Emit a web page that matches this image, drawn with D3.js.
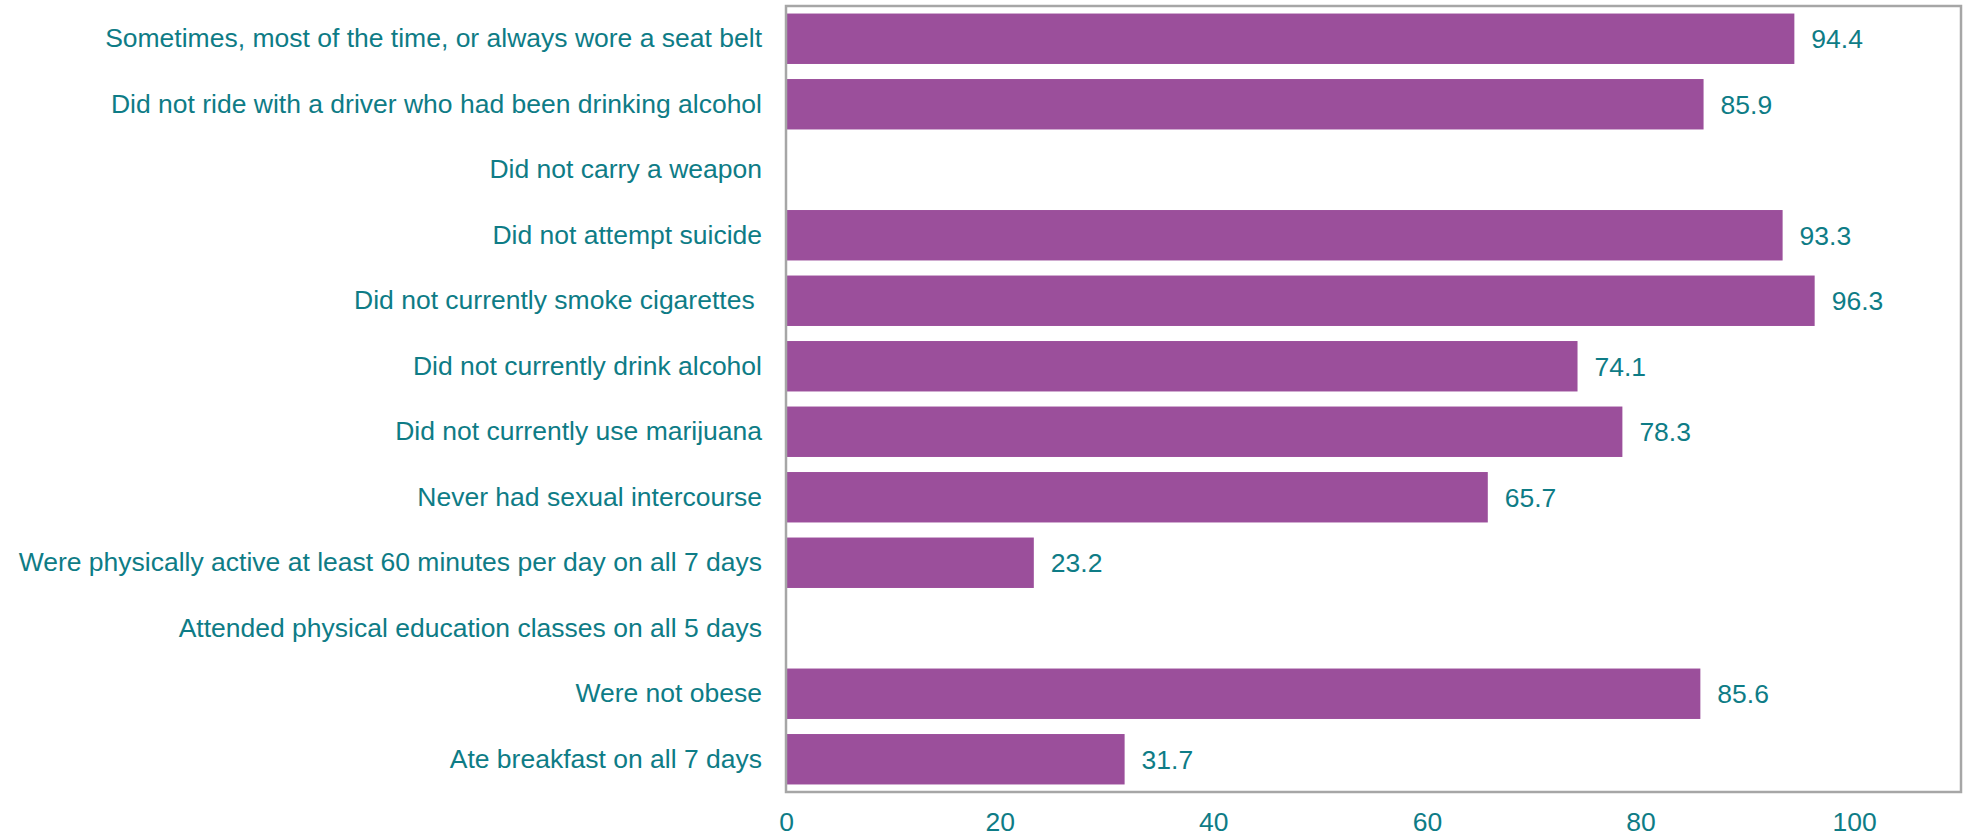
<!DOCTYPE html>
<html>
<head>
<meta charset="utf-8">
<script src="https://cdn.jsdelivr.net/npm/d3@7"></script>
<style>
  body { margin: 0; background: #fff; }
  text { font-family: "Liberation Sans", Arial, sans-serif; }
</style>
</head>
<body>
<div id="chart"></div>
<script>
// Chart data
const categories = [
  "Sometimes, most of the time, or always wore a seat belt",
  "Did not ride with a driver who had been drinking alcohol",
  "Did not carry a weapon",
  "Did not attempt suicide",
  "Did not currently smoke cigarettes ",
  "Did not currently drink alcohol",
  "Did not currently use marijuana",
  "Never had sexual intercourse",
  "Were physically active at least 60 minutes per day on all 7 days",
  "Attended physical education classes on all 5 days",
  "Were not obese",
  "Ate breakfast on all 7 days"
];
const values = [94.4, 85.9, null, 93.3, 96.3, 74.1, 78.3, 65.7, 23.2, null, 85.6, 31.7];
const xTicks = [0, 20, 40, 60, 80, 100];

const data = categories.map((c, i) => ({ name: c, value: values[i] }));

// Dimensions
const width = 1971;
const height = 840;
const margin = { left: 786, right: 10, top: 6, bottom: 48 };

const purple = "#9b4f9b";
const teal = "#0e7c86";
const fontSize = "26.5px";

const xScale = d3.scaleLinear()
  .domain([0, 110])
  .range([margin.left, width - margin.right]);

const yScale = d3.scaleBand()
  .domain(categories)
  .range([margin.top, height - margin.bottom])
  .paddingInner(0.23)
  .paddingOuter(0.115);

const svg = d3.select("#chart")
  .append("svg")
  .attr("width", width)
  .attr("height", height)
  .attr("viewBox", [0, 0, width, height]);

// Bars
svg.selectAll("rect.bar")
  .data(data.filter(d => d.value !== null))
  .enter()
  .append("rect")
    .attr("class", "bar")
    .attr("x", xScale(0))
    .attr("y", d => yScale(d.name))
    .attr("width", d => xScale(d.value) - xScale(0))
    .attr("height", yScale.bandwidth())
    .attr("fill", purple);

// Value labels
svg.selectAll("text.val")
  .data(data.filter(d => d.value !== null))
  .enter()
  .append("text")
    .attr("class", "val")
    .attr("x", d => xScale(d.value) + 17)
    .attr("y", d => yScale(d.name) + yScale.bandwidth() / 2)
    .attr("dy", "0.35em")
    .attr("fill", teal)
    .attr("font-size", fontSize)
    .text(d => d.value.toFixed(1));

// Category axis (left)
const yAxis = svg.append("g")
  .attr("transform", `translate(${margin.left - 24}, 0)`)
  .call(d3.axisLeft(yScale).tickSize(0).tickPadding(0));
yAxis.select(".domain").remove();
yAxis.selectAll("text")
  .attr("fill", teal)
  .attr("font-size", fontSize)
  .style("white-space", "pre");

// Value axis (bottom)
const xAxis = svg.append("g")
  .attr("transform", `translate(0, ${height - margin.bottom})`)
  .call(d3.axisBottom(xScale).tickValues(xTicks).tickSize(0).tickPadding(20));
xAxis.select(".domain").remove();
xAxis.selectAll("text")
  .attr("fill", teal)
  .attr("font-size", fontSize);

// Plot border
svg.append("rect")
  .attr("x", margin.left)
  .attr("y", margin.top)
  .attr("width", width - margin.right - margin.left)
  .attr("height", height - margin.bottom - margin.top)
  .attr("fill", "none")
  .attr("stroke", "#a6a6a6")
  .attr("stroke-width", 2.5);
</script>
</body>
</html>
